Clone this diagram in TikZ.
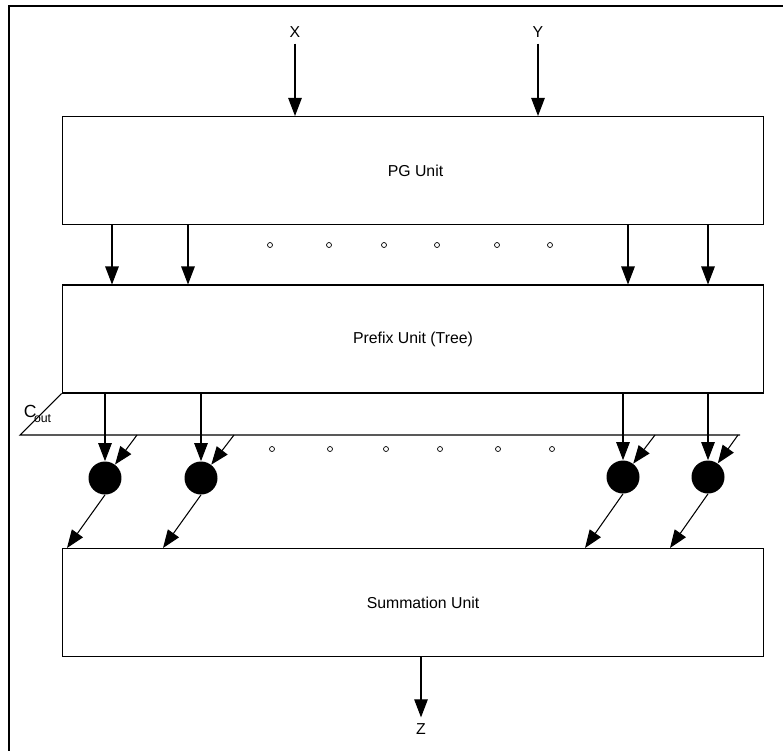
\documentclass[tikz,border=0pt]{standalone}
\usepackage{fontspec}
\setmainfont{Liberation Sans}
\usetikzlibrary{arrows.meta,calc}

\begin{document}
\begin{tikzpicture}[x=0.02cm, y=-0.02cm,
    >={Triangle[length=0.36cm, width=0.27cm]},
    font=\fontsize{9}{11}\selectfont,
    unit/.style={draw, line width=0.6pt, minimum width=14.04cm, minimum height=2.16cm},
    merge/.style={circle, fill=black, minimum size=0.66cm, inner sep=0pt},
    dot/.style={circle, draw, line width=0.4pt, minimum size=0.1cm, inner sep=0pt},
    link/.style={->, line width=0.6pt}]
    \useasboundingbox (0,0) rectangle (783,751);
    % Frame
    \draw[line width=0.8pt] (783,6) -- (9,6) -- (9,751);
    % Units
    \node[unit] (pg) at (413,170.5) {\hspace{0.1cm}PG Unit};
    \node[unit] (prefix) at (413,339) {Prefix Unit (Tree)\hspace{0.1cm}};
    \node[unit] (sum) at (413,602.5) {\hspace{0.4cm}Summation Unit};
    % Operands
    \node (X) at (295,32) {X};
    \node (Y) at (538,32) {Y};
    \draw[link] (X) -- (X |- pg.north);
    \draw[link] (Y) -- (Y |- pg.north);
    % PG -> prefix
    \foreach \x in {112,188,628,708}
        \draw[link] (pg.south -| \x,0) -- (prefix.north -| \x,0);
    \foreach \x [count=\i] in {270,329,384,437,497,550}
        \node[dot] (pgdot\i) at (\x,245) {};
    % Carry plane
    \draw[line width=0.6pt] (prefix.south west) -- (20,435) -- (740,435);
    \node (cout) at (38,414) {\fontsize{10}{12}\selectfont C\kern-1.5pt\raisebox{-1.5pt}{\textsubscript{out}}};
    % Merge cells
    \node[merge] (m1) at (105,478) {};
    \node[merge] (m2) at (201,478) {};
    \node[merge] (m3) at (623,477) {};
    \node[merge] (m4) at (708,477) {};
    \foreach \m/\c in {m1/137, m2/234, m3/655, m4/738} {
        \coordinate (c\m) at (\c,435);
        \draw[link] (prefix.south -| \m) -- (\m);
        \draw[link] (c\m) -- (\m);
    }
    \foreach \x [count=\i] in {272,330,386,440,498,552}
        \node[dot] (mdot\i) at (\x,449) {};
    % Merge -> summation
    \foreach \m/\x in {m1/67, m2/163, m3/585, m4/670}
        \draw[link] (\m.south) -- (sum.north -| \x,0);
    % Result
    \node (Z) at (421,729) {Z};
    \draw[link] (sum.south -| Z) -- (Z);
\end{tikzpicture}
\end{document}
